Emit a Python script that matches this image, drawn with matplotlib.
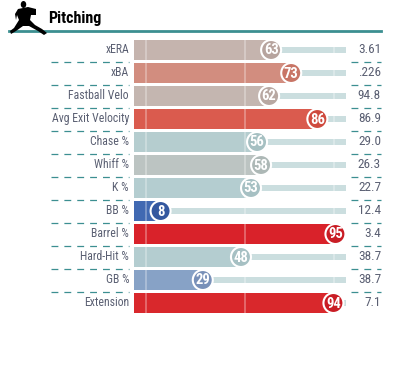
import matplotlib
matplotlib.use("Agg")
import matplotlib.pyplot as plt
from matplotlib.patches import Polygon, Circle, Ellipse

labels = ["xERA", "xBA", "Fastball Velo", "Avg Exit Velocity", "Chase %", "Whiff %",
          "K %", "BB %", "Barrel %", "Hard-Hit %", "GB %", "Extension"]
percentiles = [63, 73, 62, 86, 56, 58, 53, 8, 95, 48, 29, 94]
values = ["3.61", ".226", "94.8", "86.9", "29.0", "26.3", "22.7", "12.4", "3.4", "38.7", "38.7", "7.1"]

bar_colors = ["#c5b4ae", "#d28d7f", "#c4b6b0", "#da5b4e", "#b5cdcf", "#bcc4c2",
              "#b4cdd0", "#4169b2", "#d9222a", "#b4cdd0", "#87a2c6", "#d9282c"]
dot_colors = ["#b7a49e", "#c87566", "#b8a8a2", "#cf4a3e", "#a6c0c2", "#adb8b6",
              "#a6c0c3", "#34589f", "#c91d25", "#a6c0c3", "#7890b8", "#c91d25"]
teal = "#3c8f91"
W, H = 397, 382

plt.rcParams["font.family"] = ["Roboto Condensed", "Roboto", "DejaVu Sans"]

fig = plt.figure(figsize=(W / 100, H / 100), dpi=100)

# bars axes: percentile on x, row number on y
ax = fig.add_axes([134 / W, 1 - 314.5 / H, 212 / W, 276 / H])
ax.set_xlim(-5, 100.5)
ax.set_ylim(11.5, -0.5)
ax.axis("off")

rows = list(range(len(labels)))
ax.barh(rows, [105.5] * len(labels), left=-5, height=0.24, color="#cbdedf", zorder=1)
ax.barh(rows, [p + 5 for p in percentiles], left=-5, height=0.87, color=bar_colors, zorder=2)
for t in (1, 50, 94.5):
    ax.vlines(t, -0.45, 11.45, color="white", lw=1.2, alpha=0.35, zorder=3)

# full page axes in pixels, for header, labels and dots
page = fig.add_axes([0, 0, 1, 1])
page.set_xlim(0, W)
page.set_ylim(H, 0)
page.axis("off")
page.patch.set_alpha(0)

for i in rows:
    cx = 144.5 + 2.01 * percentiles[i]
    cy = 50 + 23 * i
    page.add_patch(Circle((cx, cy), 10, fc=dot_colors[i], ec="white", lw=1.5, zorder=5))
    page.text(cx, cy + 0.5, str(percentiles[i]), color="white",
              fontsize=10.5, fontweight="bold", ha="center", va="center", zorder=6)
    page.text(129, cy - 0.5, labels[i], color="#5a5f72", fontsize=8.5, ha="right", va="center")
    page.text(381, cy - 0.5, values[i], color="#5a5f72", fontsize=9.5, ha="right", va="center")
    if i < len(labels) - 1:
        page.plot([51, 129], [cy + 11.5] * 2, color=teal, lw=0.9, dashes=(5.5, 4.8))
        page.plot([351, 381], [cy + 11.5] * 2, color=teal, lw=0.9, dashes=(5.5, 4.8))

# header
page.plot([9, 381], [31, 31], color=teal, lw=2)
page.text(48.5, 18, "Pitching", color="black", fontsize=11.6, fontweight="bold", va="center")

# pitcher silhouette
page.add_patch(Ellipse((23.5, 4.5), 5.5, 7, fc="black", zorder=4))
page.add_patch(Polygon([(18, 9), (28, 7), (36, 9), (36, 15), (31, 15), (30, 20), (35, 25),
                        (42, 29), (47, 33), (44, 35), (38, 31), (29, 26), (23, 26), (16, 31),
                        (11, 34), (10, 31), (14, 28), (19, 20), (17, 15), (16, 20), (15, 14)],
                       fc="black", ec="none", zorder=4))

fig.savefig("out.png", dpi=100)
